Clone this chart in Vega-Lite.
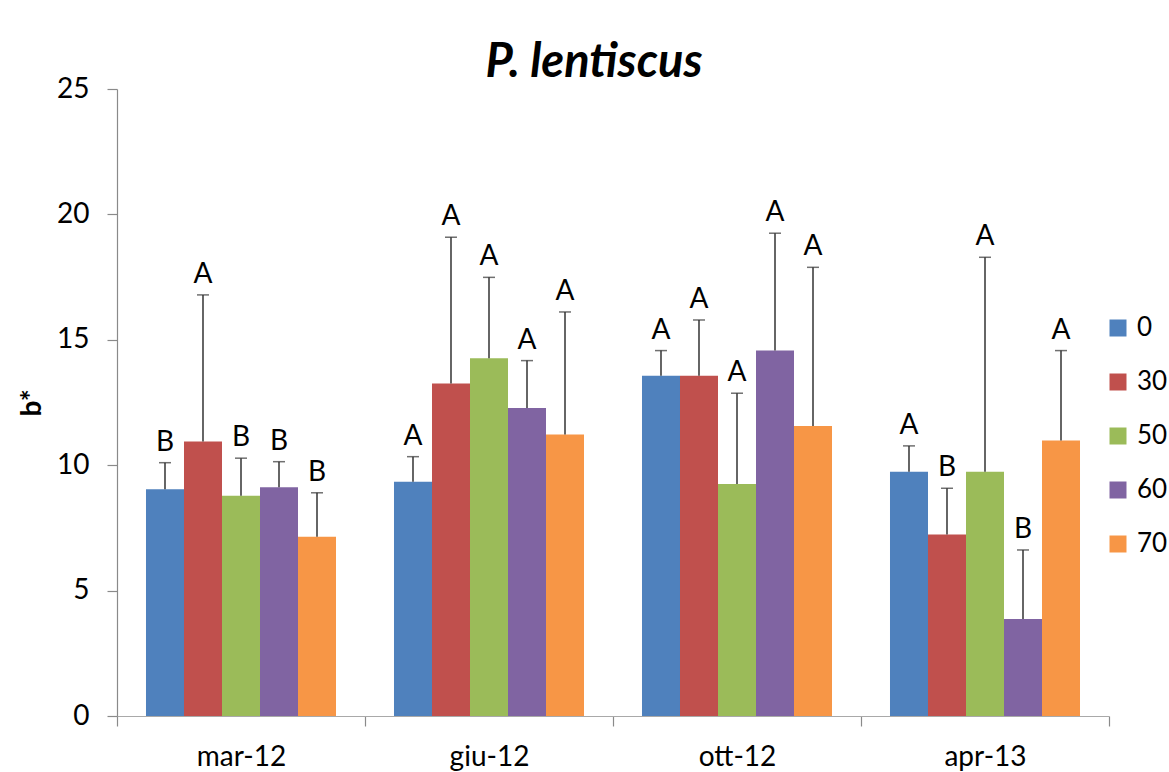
{
  "$schema": "https://vega.github.io/schema/vega-lite/v6.json",
  "width": 992,
  "height": 627,
  "autosize": {"type": "none"},
  "padding": {"left": 117, "top": 89, "right": 60, "bottom": 56},
  "background": "#ffffff",
  "config": {
    "font": "Lato",
    "view": {"stroke": null},
    "axis": {"labelColor": "#000000", "labelFont": "Lato", "labelFontSize": 28, "domainColor": "#8a8a8a", "tickColor": "#8a8a8a", "domainWidth": 1.2, "tickWidth": 1.2, "grid": false}
  },
  "title": {
    "text": "P. lentiscus",
    "font": "Lato",
    "fontSize": 47,
    "fontStyle": "italic",
    "fontWeight": "bold",
    "color": "#000000",
    "anchor": "middle",
    "dx": -19,
    "dy": 58,
    "baseline": "alphabetic",
    "offset": 9
  },
  "data": {
    "values": [
      {"date": "mar-12", "dose": "0", "mean": 9.04, "upper": 10.1, "letter": "B"},
      {"date": "mar-12", "dose": "30", "mean": 10.94, "upper": 16.79, "letter": "A"},
      {"date": "mar-12", "dose": "50", "mean": 8.78, "upper": 10.28, "letter": "B"},
      {"date": "mar-12", "dose": "60", "mean": 9.12, "upper": 10.14, "letter": "B"},
      {"date": "mar-12", "dose": "70", "mean": 7.15, "upper": 8.9, "letter": "B"},
      {"date": "giu-12", "dose": "0", "mean": 9.34, "upper": 10.34, "letter": "A"},
      {"date": "giu-12", "dose": "30", "mean": 13.26, "upper": 19.09, "letter": "A"},
      {"date": "giu-12", "dose": "50", "mean": 14.26, "upper": 17.49, "letter": "A"},
      {"date": "giu-12", "dose": "60", "mean": 12.28, "upper": 14.17, "letter": "A"},
      {"date": "giu-12", "dose": "70", "mean": 11.22, "upper": 16.11, "letter": "A"},
      {"date": "ott-12", "dose": "0", "mean": 13.57, "upper": 14.57, "letter": "A"},
      {"date": "ott-12", "dose": "30", "mean": 13.57, "upper": 15.79, "letter": "A"},
      {"date": "ott-12", "dose": "50", "mean": 9.25, "upper": 12.87, "letter": "A"},
      {"date": "ott-12", "dose": "60", "mean": 14.57, "upper": 19.25, "letter": "A"},
      {"date": "ott-12", "dose": "70", "mean": 11.56, "upper": 17.89, "letter": "A"},
      {"date": "apr-13", "dose": "0", "mean": 9.74, "upper": 10.77, "letter": "A"},
      {"date": "apr-13", "dose": "30", "mean": 7.24, "upper": 9.08, "letter": "B"},
      {"date": "apr-13", "dose": "50", "mean": 9.74, "upper": 18.29, "letter": "A"},
      {"date": "apr-13", "dose": "60", "mean": 3.87, "upper": 6.62, "letter": "B"},
      {"date": "apr-13", "dose": "70", "mean": 10.98, "upper": 14.57, "letter": "A"}
    ]
  },
  "encoding": {
    "x": {
      "field": "date",
      "type": "nominal",
      "sort": ["mar-12", "giu-12", "ott-12", "apr-13"],
      "scale": {"paddingInner": 0, "paddingOuter": 0},
      "axis": {"title": null, "labelAngle": 0, "tickBand": "extent", "tickSize": 10, "labelPadding": 17, "domainColor": "#a9a9a9"}
    },
    "xOffset": {
      "field": "dose",
      "type": "nominal",
      "sort": ["0", "30", "50", "60", "70"],
      "scale": {"paddingInner": 0, "paddingOuter": 0.763}
    }
  },
  "layer": [
    {
      "mark": {"type": "bar"},
      "encoding": {
        "y": {
          "field": "mean",
          "type": "quantitative",
          "scale": {"domain": [0, 25], "nice": false},
          "axis": {"title": "b*", "titleFont": "Lato", "titleFontSize": 28, "titleFontWeight": "bold", "titleColor": "#000000", "titlePadding": 10, "values": [0, 5, 10, 15, 20, 25], "tickSize": 10, "labelPadding": 18}
        },
        "color": {
          "field": "dose",
          "type": "nominal",
          "sort": ["0", "30", "50", "60", "70"],
          "scale": {"domain": ["0", "30", "50", "60", "70"], "range": ["#4F81BD", "#C0504D", "#9BBB59", "#8064A2", "#F79646"]},
          "legend": {
            "orient": "none",
            "legendX": 988,
            "legendY": 226,
            "title": null,
            "symbolType": "square",
            "symbolSize": 289,
            "symbolStrokeWidth": 0,
            "labelFont": "Lato",
            "labelFontSize": 26,
            "labelColor": "#000000",
            "labelOffset": 6,
            "rowPadding": 28
          }
        }
      }
    },
    {
      "mark": {"type": "rule", "color": "#333333", "strokeWidth": 1.5},
      "encoding": {
        "y": {"field": "mean", "type": "quantitative"},
        "y2": {"field": "upper"}
      }
    },
    {
      "mark": {"type": "tick", "color": "#333333", "size": 12, "thickness": 1.5},
      "encoding": {
        "y": {"field": "upper", "type": "quantitative"}
      }
    },
    {
      "mark": {"type": "text", "font": "Lato", "fontSize": 28, "color": "#000000", "baseline": "alphabetic", "dy": -12},
      "encoding": {
        "y": {"field": "upper", "type": "quantitative"},
        "text": {"field": "letter"}
      }
    }
  ]
}
